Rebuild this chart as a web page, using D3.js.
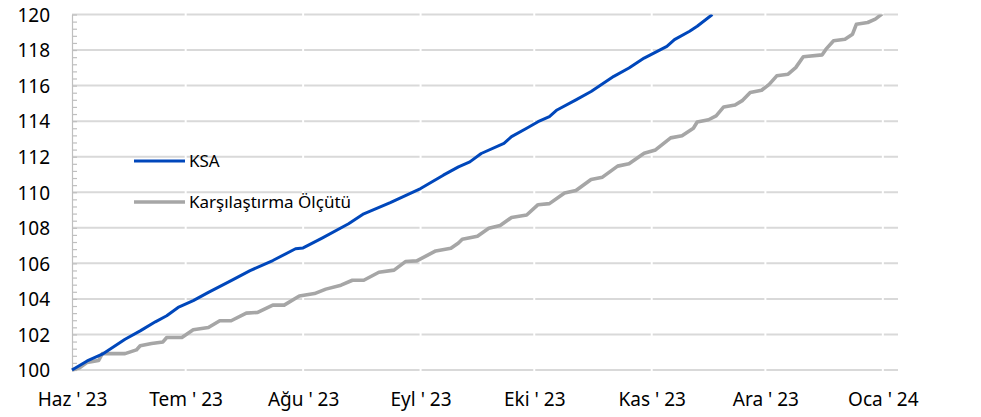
<!DOCTYPE html>
<html>
<head>
<meta charset="utf-8">
<script src="https://cdn.jsdelivr.net/npm/d3@7"></script>
<style>
    body { margin: 0; background: #fff; }
    svg { display: block; }
    text { font-family: "Noto Sans", sans-serif; fill: #000; }
</style>
</head>
<body>
<svg id="chart" width="981" height="417"></svg>
<script>
const seriesNames = ["KSA", "Karşılaştırma Ölçütü"];

const ksaDates = ["2023-06-01", "2023-06-05", "2023-06-09", "2023-06-15", "2023-06-19", "2023-06-23", "2023-06-26", "2023-06-29",
    "2023-07-03", "2023-07-07", "2023-07-13", "2023-07-18", "2023-07-24", "2023-07-30",
    "2023-08-01", "2023-08-06", "2023-08-13", "2023-08-17", "2023-08-24",
    "2023-09-01", "2023-09-07", "2023-09-11", "2023-09-14", "2023-09-17", "2023-09-23", "2023-09-25", "2023-09-29",
    "2023-10-02", "2023-10-05", "2023-10-07", "2023-10-12", "2023-10-16", "2023-10-22", "2023-10-26", "2023-10-30",
    "2023-11-05", "2023-11-07", "2023-11-11", "2023-11-13", "2023-11-17"];
const ksaValues = [100, 100.51, 100.89, 101.73, 102.2, 102.71, 103.05, 103.52,
    103.9, 104.37, 105.03, 105.59, 106.16, 106.82,
    106.87, 107.42, 108.23, 108.79, 109.42,
    110.21, 110.96, 111.43, 111.71, 112.18, 112.75, 113.13, 113.6,
    113.97, 114.26, 114.63, 115.2, 115.67, 116.52, 116.99, 117.55,
    118.21, 118.59, 119.06, 119.34, 120];

const benchDates = ["2023-06-01", "2023-06-03", "2023-06-05", "2023-06-08", "2023-06-09", "2023-06-15", "2023-06-18", "2023-06-19",
    "2023-06-22", "2023-06-25", "2023-06-26", "2023-06-30",
    "2023-07-03", "2023-07-07", "2023-07-10", "2023-07-13", "2023-07-17", "2023-07-20", "2023-07-24", "2023-07-27", "2023-07-31",
    "2023-08-04", "2023-08-07", "2023-08-11", "2023-08-14", "2023-08-17", "2023-08-21", "2023-08-25", "2023-08-28", "2023-08-31",
    "2023-09-05", "2023-09-09", "2023-09-11", "2023-09-12", "2023-09-16", "2023-09-19", "2023-09-22", "2023-09-25", "2023-09-29",
    "2023-10-02", "2023-10-05", "2023-10-09", "2023-10-12", "2023-10-16", "2023-10-19", "2023-10-23", "2023-10-26", "2023-10-30",
    "2023-11-02", "2023-11-06", "2023-11-09", "2023-11-12", "2023-11-13", "2023-11-16", "2023-11-18", "2023-11-20", "2023-11-23",
    "2023-11-25", "2023-11-27", "2023-11-30",
    "2023-12-02", "2023-12-04", "2023-12-07", "2023-12-09", "2023-12-11", "2023-12-16", "2023-12-17", "2023-12-19",
    "2023-12-22", "2023-12-24", "2023-12-25", "2023-12-28", "2023-12-30", "2024-01-01"];
const benchValues = [100, 100.13, 100.43, 100.53, 100.92, 100.92, 101.13, 101.36,
    101.49, 101.58, 101.83, 101.83,
    102.26, 102.39, 102.77, 102.77, 103.2, 103.24, 103.65, 103.65, 104.16,
    104.3, 104.55, 104.77, 105.05, 105.05, 105.5, 105.62, 106.1, 106.14,
    106.7, 106.85, 107.15, 107.36, 107.53, 107.97, 108.13, 108.58, 108.72,
    109.3, 109.36, 109.96, 110.1, 110.72, 110.85, 111.47, 111.6, 112.19,
    112.38, 113.06, 113.18, 113.6, 113.95, 114.08, 114.3, 114.8, 114.91,
    115.17, 115.61, 115.74,
    116.07, 116.55, 116.64, 117.01, 117.62, 117.73, 118.05, 118.52,
    118.61, 118.89, 119.45, 119.55, 119.74, 120.06];

const monthDates = ["2023-06-01", "2023-07-01", "2023-08-01", "2023-09-01", "2023-10-01", "2023-11-01", "2023-12-01", "2024-01-01"];
const monthLabels = ["Haz ' 23", "Tem ' 23", "Ağu ' 23", "Eyl ' 23", "Eki ' 23", "Kas ' 23", "Ara ' 23", "Oca ' 24"];
const yTicks = [100, 102, 104, 106, 108, 110, 112, 114, 116, 118, 120];

const parseDate = d3.timeParse("%Y-%m-%d");

const svg = d3.select("#chart");
const plot = { left: 72, right: 898, top: 14.5, bottom: 370 };

const x = d3.scaleTime()
    .domain([parseDate("2023-06-01"), parseDate("2024-01-05")])
    .range([plot.left, plot.right]);
const y = d3.scaleLinear().domain([100, 120]).range([plot.bottom, plot.top]);

// horizontal grid
svg.append("g")
    .selectAll("line")
    .data(yTicks)
    .join("line")
    .attr("x1", plot.left)
    .attr("x2", plot.right)
    .attr("y1", d => y(d))
    .attr("y2", d => y(d))
    .attr("stroke", "#d9d9d9")
    .attr("stroke-width", 2);

// small white breaks in the grid at each month
svg.append("g")
    .selectAll("line")
    .data(monthDates.slice(1))
    .join("line")
    .attr("x1", d => x(parseDate(d)))
    .attr("x2", d => x(parseDate(d)))
    .attr("y1", plot.top - 2)
    .attr("y2", plot.bottom + 2)
    .attr("stroke", "#fff")
    .attr("stroke-width", 2);

// y axis line with minor ticks
svg.append("g")
    .attr("transform", `translate(${plot.left},0)`)
    .call(d3.axisRight(y).tickValues(d3.range(100, 120.01, 0.4)).tickSize(5).tickSizeOuter(0).tickFormat(""))
    .call(g => g.selectAll("path, line").attr("stroke", "#bfbfbf").attr("stroke-width", 1.2));

// y labels
svg.append("g")
    .attr("transform", `translate(${plot.left},0)`)
    .call(d3.axisLeft(y).tickValues(yTicks).tickSize(0).tickPadding(22).tickFormat(d3.format("d")))
    .call(g => g.select(".domain").remove())
    .call(g => g.selectAll("text")
        .attr("font-size", 19)
        .attr("font-family", "'Noto Sans', sans-serif")
        .attr("fill", "#000")
        .attr("dy", "0.36em"));

// x labels
svg.append("g")
    .attr("transform", `translate(0,${plot.bottom})`)
    .call(d3.axisBottom(x).tickValues(monthDates.map(parseDate)).tickSize(0).tickFormat((d, i) => monthLabels[i]))
    .call(g => g.select(".domain").remove())
    .call(g => g.selectAll("text")
        .attr("font-size", 19)
        .attr("font-family", "'Noto Sans', sans-serif")
        .attr("fill", "#000")
        .attr("y", 36)
        .attr("dy", 0));

svg.append("clipPath")
    .attr("id", "plot-clip")
    .append("rect")
    .attr("x", plot.left - 5)
    .attr("y", plot.top)
    .attr("width", plot.right - plot.left + 10)
    .attr("height", plot.bottom - plot.top + 5);

const line = d3.line()
    .x(d => x(d.date))
    .y(d => y(d.value));

const series = [
    { name: seriesNames[1], colour: "#a6a6a6", width: 3.6, points: benchDates.map((d, i) => ({ date: parseDate(d), value: benchValues[i] })) },
    { name: seriesNames[0], colour: "#0047bb", width: 3, points: ksaDates.map((d, i) => ({ date: parseDate(d), value: ksaValues[i] })) }
];

svg.append("g")
    .attr("clip-path", "url(#plot-clip)")
    .selectAll("path")
    .data(series)
    .join("path")
    .attr("fill", "none")
    .attr("stroke", d => d.colour)
    .attr("stroke-width", d => d.width)
    .attr("stroke-linejoin", "round")
    .attr("d", d => line(d.points));

// legend
const legend = svg.append("g")
    .selectAll("g")
    .data([series[1], series[0]])
    .join("g")
    .attr("transform", (d, i) => `translate(134,${161 + i * 41})`);

legend.append("line")
    .attr("x1", 0)
    .attr("x2", 51)
    .attr("stroke", d => d.colour)
    .attr("stroke-width", d => d.width);

legend.append("text")
    .attr("x", 55)
    .attr("y", 6)
    .attr("font-size", 17)
    .text(d => d.name);
</script>
</body>
</html>
